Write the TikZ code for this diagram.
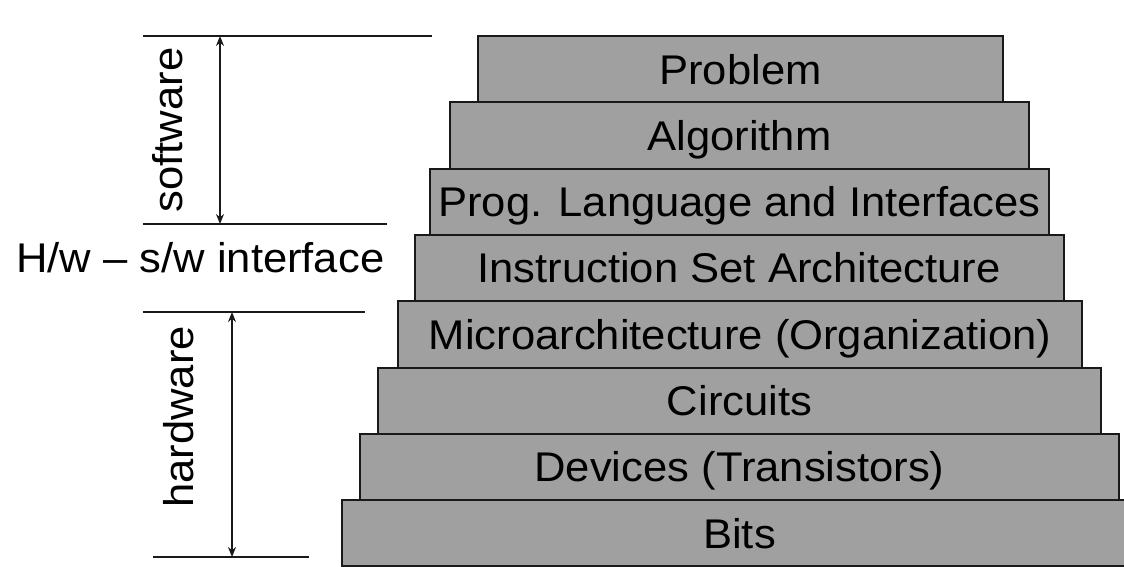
\documentclass[tikz,border=0pt]{standalone}
\usepackage{fontspec}
\setmainfont{Liberation Sans}[FakeStretch=1.05]
\usetikzlibrary{arrows.meta}
\definecolor{layerfill}{RGB}{160,160,160}
\definecolor{inkline}{RGB}{25,25,25}
\begin{document}
\begin{tikzpicture}[x=1pt,y=-1pt,
  layer/.style={draw=inkline, line width=2pt, fill=layerfill,
    minimum height=66.3pt, inner sep=0pt, text height=29.7pt, text depth=0pt,
    font=\fontsize{41.5}{48}\selectfont},
  rule/.style={draw=inkline, line width=2pt},
  span/.style={draw=inkline, line width=2pt, {Stealth[length=10pt,width=8pt]}-{Stealth[length=10pt,width=8pt]}},
  side/.style={font=\fontsize{41.5}{48}\selectfont}]
\useasboundingbox (0,0) rectangle (1124,567);

% stacked abstraction layers, bottom to top
\node[layer, minimum width=795pt] (bits)    at (739.5,533.3) {Bits};
\node[layer, minimum width=759pt] (devices) at (739.5,467.0) {Devices (Transistors)};
\node[layer, minimum width=723pt] (circ)    at (739.5,400.7) {Circuits};
\node[layer, minimum width=684pt] (micro)   at (740.0,334.4) {Microarchitecture (Organization)};
\node[layer, minimum width=649pt] (isa)     at (739.0,268.1) {Instruction Set Architecture};
\node[layer, minimum width=619pt] (prog)    at (739.5,201.8) {Prog. Language and Interfaces};
\node[layer, minimum width=579pt] (algo)    at (739.5,135.5) {Algorithm};
\node[layer, minimum width=525pt] (prob)    at (740.5,69.2)  {Problem};

% software extent
\coordinate (swtl) at (143,36);  \coordinate (swtr) at (432,36);
\coordinate (swbl) at (143,224); \coordinate (swbr) at (387,224);
\coordinate (swa) at (220,36);   \coordinate (swb) at (220,224);
\draw[rule] (swtl) -- (swtr);
\draw[rule] (swbl) -- (swbr);
\draw[span] (swa) -- (swb);
\node[side, rotate=90, anchor=base] (swlabel) at (182,130) {software};

% interface label
\node[side, anchor=base west, inner sep=0pt] (iface) at (16,272) {H/w – s/w interface};

% hardware extent
\coordinate (hwtl) at (143,312); \coordinate (hwtr) at (365,312);
\coordinate (hwbl) at (153,557); \coordinate (hwbr) at (309,557);
\coordinate (hwa) at (232,312);  \coordinate (hwb) at (232,557);
\draw[rule] (hwtl) -- (hwtr);
\draw[rule] (hwbl) -- (hwbr);
\draw[span] (hwa) -- (hwb);
\node[side, rotate=90, anchor=base] (hwlabel) at (193,417) {hardware};
\end{tikzpicture}
\end{document}
